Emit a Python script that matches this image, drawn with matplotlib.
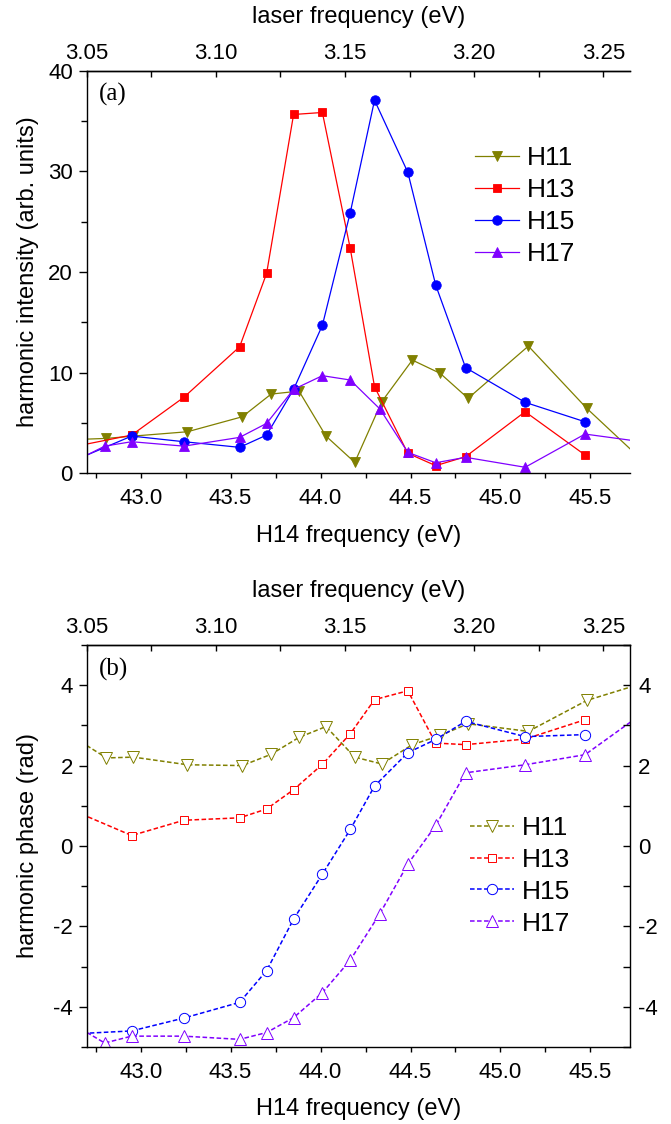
import matplotlib
matplotlib.use("Agg")
import matplotlib.pyplot as plt
from matplotlib.ticker import MultipleLocator, FormatStrFormatter

plt.rcParams['font.family'] = ['Liberation Sans', 'DejaVu Sans']
plt.rcParams['axes.unicode_minus'] = False

# H14 frequency (eV) for each series; first/last points sit just outside the axes
x_h11 = [42.6, 42.81, 42.96, 43.26, 43.565, 43.725, 43.88, 44.03, 44.19, 44.34, 44.51, 44.665, 44.82, 45.155, 45.48, 45.8]
x_h13 = [42.6, 42.95, 43.24, 43.55, 43.70, 43.85, 44.01, 44.165, 44.30, 44.485, 44.64, 44.806, 45.137, 45.47]
x_h15 = [42.6, 42.95, 43.24, 43.55, 43.70, 43.85, 44.01, 44.165, 44.30, 44.485, 44.64, 44.806, 45.137, 45.47]
x_h17 = [42.6, 42.8, 42.95, 43.24, 43.55, 43.70, 43.85, 44.01, 44.165, 44.33, 44.485, 44.64, 44.806, 45.137, 45.47, 45.8]

# (a) harmonic intensity (arb. units)
int_h11 = [3.33, 3.47, 3.7, 4.13, 5.62, 7.87, 8.17, 3.7, 1.09, 7.11, 11.25, 9.93, 7.45, 12.64, 6.45, 1.1]
int_h13 = [2.55, 3.8, 7.55, 12.57, 19.86, 35.65, 35.85, 22.34, 8.6, 1.99, 0.76, 1.65, 6.12, 1.82]
int_h15 = [1.05, 3.7, 3.14, 2.58, 3.8, 8.34, 14.7, 25.9, 37.07, 29.9, 18.7, 10.5, 7.05, 5.12]
int_h17 = [0.9, 2.7, 3.14, 2.7, 3.57, 4.96, 8.34, 9.7, 9.27, 6.39, 2.08, 1.05, 1.59, 0.6, 3.9, 3.1]

# (b) harmonic phase (rad)
ph_h11 = [2.78, 2.19, 2.21, 2.02, 2.0, 2.28, 2.7, 2.97, 2.21, 2.04, 2.52, 2.75, 3.04, 2.85, 3.62, 4.06]
ph_h13 = [0.93, 0.26, 0.64, 0.70, 0.92, 1.40, 2.03, 2.79, 3.64, 3.86, 2.56, 2.52, 2.66, 3.14]
ph_h15 = [-4.68, -4.6, -4.28, -3.89, -3.10, -1.82, -0.70, 0.41, 1.49, 2.32, 2.65, 3.10, 2.72, 2.77]
ph_h17 = [-4.37, -4.9, -4.73, -4.73, -4.81, -4.64, -4.27, -3.65, -2.84, -1.68, -0.45, 0.51, 1.82, 2.02, 2.27, 3.33]

labels = ['H11', 'H13', 'H15', 'H17']
colors = ['#808000', '#ff0000', '#0000ff', '#8000ff']
markers = ['v', 's', 'o', '^']
msizes = [7.6, 5.4, 6.8, 7.6]

xs = [x_h11, x_h13, x_h15, x_h17]
intensity = [int_h11, int_h13, int_h15, int_h17]
phase = [ph_h11, ph_h13, ph_h15, ph_h17]

XLIM = (42.7, 45.72)
LASER_LIM = (3.05, 3.2603)


def style_axes(ax, top, ylim, ymajor, yminor, ylabel, tag):
    ax.set_xlim(*XLIM)
    ax.set_ylim(*ylim)
    ax.xaxis.set_major_locator(MultipleLocator(0.5))
    ax.xaxis.set_minor_locator(MultipleLocator(0.25))
    ax.xaxis.set_major_formatter(FormatStrFormatter('%.1f'))
    ax.yaxis.set_major_locator(MultipleLocator(ymajor))
    ax.yaxis.set_minor_locator(MultipleLocator(yminor))
    ax.tick_params(axis='x', which='both', direction='out', length=3.6, width=1.0,
                   labelsize=16, pad=7, top=False)
    ax.tick_params(axis='y', which='major', direction='out', length=6, width=1.0,
                   labelsize=16, pad=4, right=False)
    ax.tick_params(axis='y', which='minor', direction='out', length=4.5, width=1.0, right=False)
    for s in ax.spines.values():
        s.set_linewidth(1.0)
    ax.spines['right'].set_visible(False)
    ax.set_xlabel('H14 frequency (eV)', fontsize=17)
    ax.xaxis.set_label_coords(0.5, -0.128)
    ax.xaxis.label.set_va('top')
    ax.set_ylabel(ylabel, fontsize=17)
    ax.yaxis.set_label_coords(-0.088, 0.5)
    ax.text(0.023, 0.94, tag, transform=ax.transAxes, fontsize=18,
            family='Liberation Serif', va='center', ha='left')

    top.set_xlim(*LASER_LIM)
    top.xaxis.set_major_locator(MultipleLocator(0.05))
    top.xaxis.set_minor_locator(MultipleLocator(0.025))
    top.xaxis.set_major_formatter(FormatStrFormatter('%.2f'))
    top.tick_params(axis='x', which='both', direction='in', length=4.5, width=1.0,
                    labelsize=16, pad=5)
    top.set_xlabel('laser frequency (eV)', fontsize=17)
    top.xaxis.set_label_coords(0.5, 1.107)
    top.xaxis.label.set_va('bottom')
    for name, s in top.spines.items():
        s.set_linewidth(1.0)
        if name != 'top':
            s.set_visible(False)


fig = plt.figure(figsize=(6.71, 11.24), dpi=100)

# panel (a)
ax_a = fig.add_axes([0.1292, 0.5789, 0.8097, 0.3582])
for x, y, lab, c, m, ms in zip(xs, intensity, labels, colors, markers, msizes):
    ax_a.plot(x, y, color=c, marker=m, markersize=ms, linewidth=0.9,
              markeredgewidth=0.6, label=lab)
top_a = ax_a.twiny()
style_axes(ax_a, top_a, (0, 40), 10, 5, 'harmonic intensity (arb. units)', '(a)')
ax_a.legend(loc='upper left', bbox_to_anchor=(0.7147, 0.813), frameon=False,
            fontsize=19, handlelength=1.65, handletextpad=0.3, labelspacing=0.3,
            borderpad=0, borderaxespad=0)

# panel (b)
ax_b = fig.add_axes([0.1292, 0.0685, 0.8097, 0.3577])
for x, y, lab, c, m, ms in zip(xs, phase, labels, colors, markers, msizes):
    ax_b.plot(x, y, color=c, marker=m, markersize=ms + 0.6, linewidth=1.1,
              linestyle=(0, (3, 1.6)), markerfacecolor='white',
              markeredgecolor=c, markeredgewidth=0.7, label=lab)
top_b = ax_b.twiny()
style_axes(ax_b, top_b, (-5, 5), 2, 1, 'harmonic phase (rad)', '(b)')
right_b = ax_b.twinx()
right_b.set_ylim(-5, 5)
right_b.yaxis.set_major_locator(MultipleLocator(2))
right_b.yaxis.set_minor_locator(MultipleLocator(1))
right_b.tick_params(axis='y', which='both', direction='in', length=5.2, width=1.0,
                    labelsize=16, pad=6)
for name, s in right_b.spines.items():
    s.set_linewidth(1.0)
    if name != 'right':
        s.set_visible(False)
ax_b.legend(loc='upper left', bbox_to_anchor=(0.7055, 0.575), frameon=False,
            fontsize=19, handlelength=1.65, handletextpad=0.3, labelspacing=0.3,
            borderpad=0, borderaxespad=0)

fig.savefig('out.png', dpi=100)
